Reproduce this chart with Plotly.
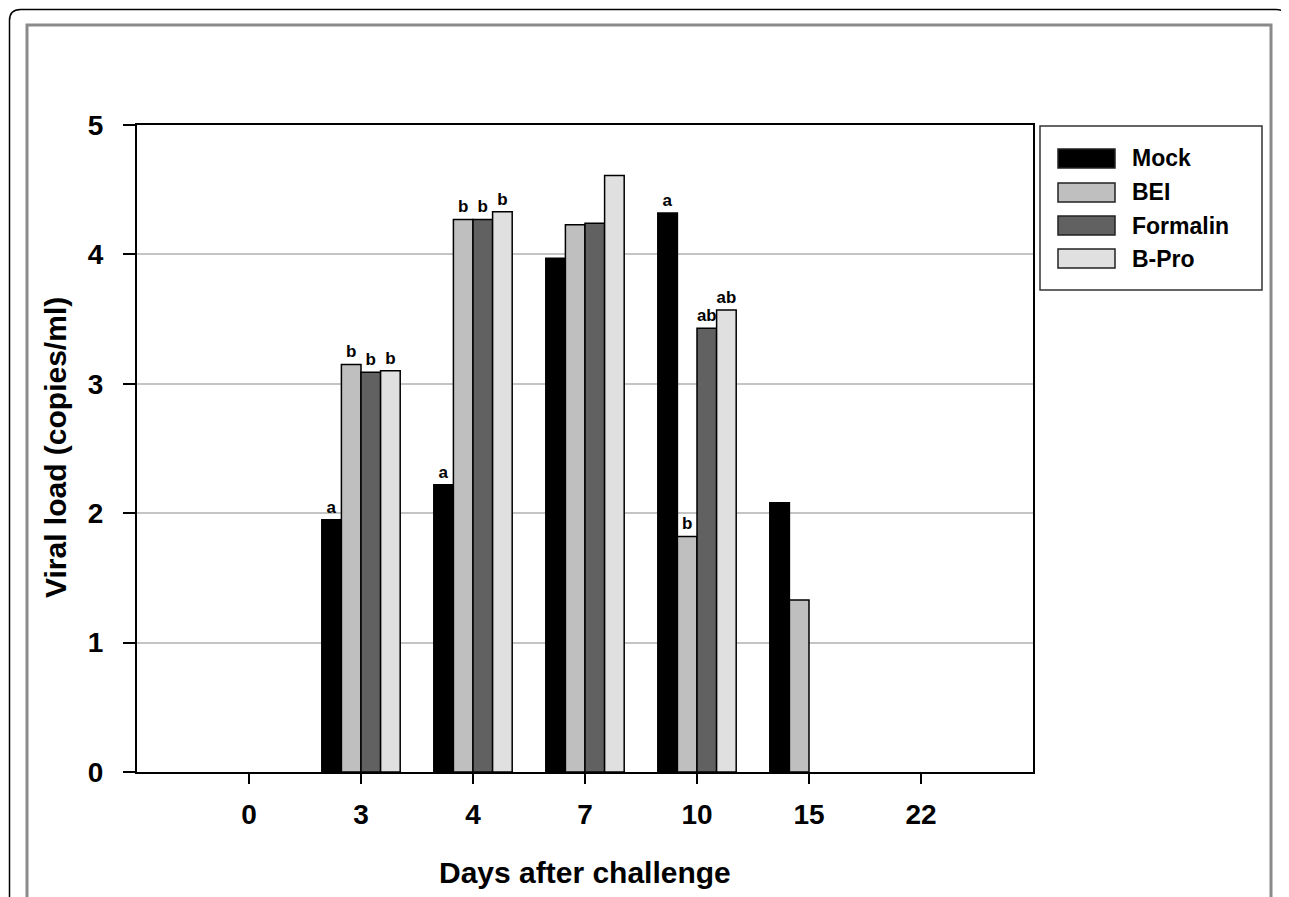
import plotly.graph_objects as go

days = ["0", "3", "4", "7", "10", "15", "22"]
series_names = ["Mock", "BEI", "Formalin", "B-Pro"]
mock = [0, 1.95, 2.22, 3.97, 4.32, 2.08, 0]
bei = [0, 3.15, 4.27, 4.23, 1.82, 1.33, 0]
formalin = [0, 3.09, 4.27, 4.24, 3.43, 0, 0]
bpro = [0, 3.10, 4.33, 4.61, 3.57, 0, 0]
mock_lbl = ["", "a", "a", "", "a", "", ""]
bei_lbl = ["", "b", "b", "", "b", "", ""]
formalin_lbl = ["", "b", "b", "", "ab", "", ""]
bpro_lbl = ["", "b", "b", "", "ab", "", ""]

colors = ["#000000", "#bfbfbf", "#616161", "#e0e0e0"]
values = [mock, bei, formalin, bpro]
labels = [mock_lbl, bei_lbl, formalin_lbl, bpro_lbl]

FONT = "Liberation Sans, Arial"
OFF = 8  # page body margin
W, H = 1289 - OFF, 897 - OFF
ML, MR, MT, MB = 137 - OFF, 1289 - 1033, 125 - OFF, 897 - 772
PW, PH = W - ML - MR, H - MT - MB


def px(x):
    return (x - OFF - ML) / PW


def py(y):
    return (H - MB - (y - OFF)) / PH


fig = go.Figure()
for name, vals, lbl, col in zip(series_names, values, labels, colors):
    fig.add_trace(go.Bar(
        x=days, y=vals, name=name, text=lbl, textposition="outside",
        textfont=dict(family=FONT, size=17, color="black", weight="bold"),
        marker=dict(color=col, line=dict(color="black",
                                         width=[1.5 if v > 0 else 0 for v in vals])),
        cliponaxis=False, showlegend=False,
    ))

L0, T0, R0 = 9.5, 9.5, 1287
shapes = [
    dict(type="path", xref="paper", yref="paper",
         path=(f"M {px(L0)},{py(960)} L {px(L0)},{py(T0 + 11)} Q {px(L0)},{py(T0)} {px(L0 + 11)},{py(T0)} "
               f"L {px(R0 - 11)},{py(T0)} Q {px(R0)},{py(T0)} {px(R0)},{py(T0 + 11)} L {px(R0)},{py(960)}"),
         line=dict(color="black", width=1.5), layer="below"),
    dict(type="path", xref="paper", yref="paper",
         path=f"M {px(27)},{py(960)} L {px(27)},{py(25)} L {px(1271)},{py(25)} L {px(1271)},{py(960)}",
         line=dict(color="#8a8a8a", width=3), layer="below"),
    dict(type="rect", xref="paper", yref="paper",
         x0=px(1040), x1=px(1262), y0=py(290), y1=py(126),
         line=dict(color="#333333", width=1.5), fillcolor="white"),
]
annotations = []
sw_top = [149, 183, 216, 249]
for name, col, t in zip(series_names, colors, sw_top):
    shapes.append(dict(type="rect", xref="paper", yref="paper",
                       x0=px(1058), x1=px(1115), y0=py(t + 19), y1=py(t),
                       line=dict(color="#222222", width=1.5), fillcolor=col))
    annotations.append(dict(xref="paper", yref="paper", x=px(1130), y=py(t + 9.5),
                            xanchor="left", yanchor="middle", showarrow=False, text=name,
                            font=dict(family=FONT, size=23, color="black", weight="bold")))

annotations.append(dict(xref="paper", yref="paper", x=px(585), y=py(872),
                        xanchor="center", yanchor="middle", showarrow=False,
                        text="Days after challenge",
                        font=dict(family=FONT, size=30, color="black", weight="bold")))
annotations.append(dict(xref="paper", yref="paper", x=px(55), y=py(448),
                        xanchor="center", yanchor="middle", showarrow=False, textangle=-90,
                        text="Viral load (copies/ml)",
                        font=dict(family=FONT, size=30, color="black", weight="bold")))

fig.update_layout(
    width=W, height=H,
    paper_bgcolor="white", plot_bgcolor="white",
    margin=dict(l=ML, r=MR, t=MT, b=MB, autoexpand=False),
    barmode="group", bargap=0.3, bargroupgap=0,
    showlegend=False,
    font=dict(family=FONT, color="black"),
    xaxis=dict(
        type="category", range=[-1, 7], automargin=False,
        showline=True, linecolor="black", linewidth=2, mirror=True,
        ticks="outside", ticklen=10, tickcolor="black", tickwidth=2,
        ticklabelstandoff=6,
        tickfont=dict(family=FONT, size=28, color="black", weight="bold"),
        showgrid=False,
    ),
    yaxis=dict(
        range=[0, 5], dtick=1, automargin=False,
        showline=True, linecolor="black", linewidth=2, mirror=True,
        ticks="outside", ticklen=12, tickcolor="black", tickwidth=2,
        ticklabelstandoff=14,
        tickfont=dict(family=FONT, size=28, color="black", weight="bold"),
        showgrid=True, gridcolor="#c4c4c4", gridwidth=1.5,
        zeroline=False,
    ),
    shapes=shapes,
    annotations=annotations,
)

fig.write_html("out.html")
